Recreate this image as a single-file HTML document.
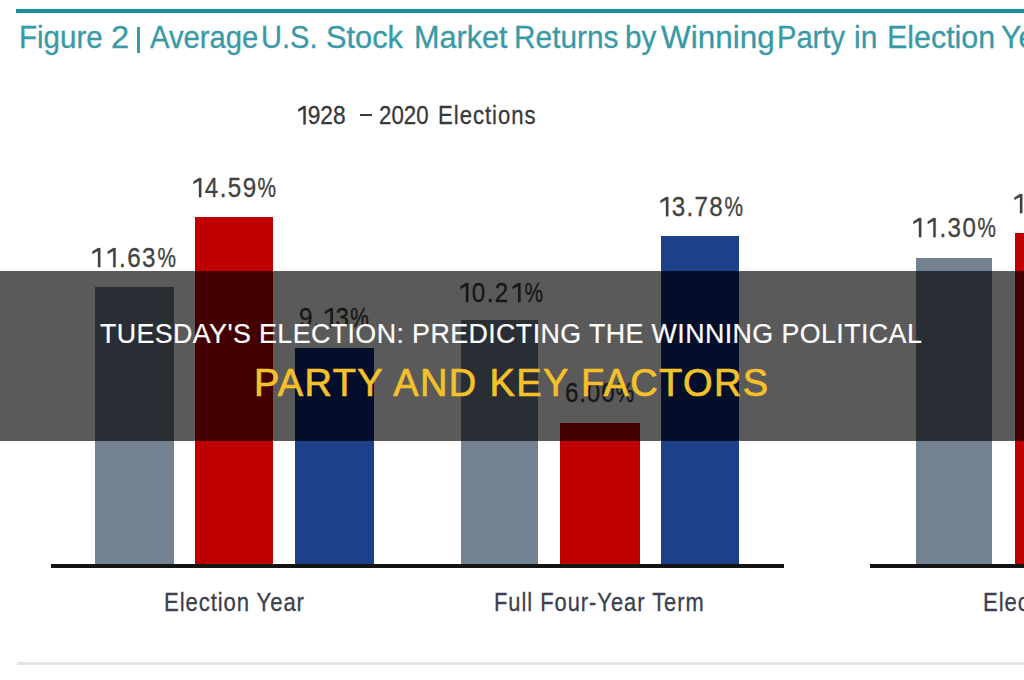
<!DOCTYPE html>
<html><head><meta charset="utf-8">
<style>
html,body{margin:0;padding:0;}
body{width:1024px;height:680px;position:relative;overflow:hidden;background:#fff;font-family:"Liberation Sans",sans-serif;}
.a{position:absolute;}
.t{position:absolute;line-height:1;white-space:pre;transform-origin:0 0;}
.one{width:.556em;height:.716em;vertical-align:baseline;margin-right:var(--ls);fill:currentColor;overflow:visible;}
.pc{display:inline-block;transform:scaleX(.86);transform-origin:0 0;}
</style></head><body>

<div class="a" style="left:16.0px;top:8.5px;width:1008.0px;height:4.0px;background:#1b8c96"></div>
<div class="a" style="left:137.2px;top:26.5px;width:3.0px;height:26.0px;background:#3899a7"></div>
<div class="t" style="left:18.90px;top:22px;font-size:30.44px;transform:scaleX(0.9699);-webkit-text-stroke:0.3px #3899a7;color:#3899a7;">Figure</div>
<div class="t" style="left:110.70px;top:22px;font-size:30.44px;transform:scaleX(1.0733);-webkit-text-stroke:0.3px #3899a7;color:#3899a7;">2</div>
<div class="t" style="left:150.00px;top:22px;font-size:30.44px;transform:scaleX(0.9589);-webkit-text-stroke:0.3px #3899a7;color:#3899a7;">Average</div>
<div class="t" style="left:261.00px;top:22px;font-size:30.44px;transform:scaleX(0.9545);-webkit-text-stroke:0.3px #3899a7;color:#3899a7;">U.S.</div>
<div class="t" style="left:326.20px;top:22px;font-size:30.44px;transform:scaleX(1.0108);-webkit-text-stroke:0.3px #3899a7;color:#3899a7;">Stock</div>
<div class="t" style="left:414.00px;top:22px;font-size:30.44px;transform:scaleX(1.0044);-webkit-text-stroke:0.3px #3899a7;color:#3899a7;">Market</div>
<div class="t" style="left:514.00px;top:22px;font-size:30.44px;transform:scaleX(0.9808);-webkit-text-stroke:0.3px #3899a7;color:#3899a7;">Returns</div>
<div class="t" style="left:624.70px;top:22px;font-size:30.44px;transform:scaleX(0.9733);-webkit-text-stroke:0.3px #3899a7;color:#3899a7;">by</div>
<div class="t" style="left:661.00px;top:22px;font-size:30.44px;transform:scaleX(1.0343);-webkit-text-stroke:0.3px #3899a7;color:#3899a7;">Winning</div>
<div class="t" style="left:777.00px;top:22px;font-size:30.44px;transform:scaleX(0.9565);-webkit-text-stroke:0.3px #3899a7;color:#3899a7;">Party</div>
<div class="t" style="left:853.80px;top:22px;font-size:30.44px;transform:scaleX(0.9850);-webkit-text-stroke:0.3px #3899a7;color:#3899a7;">in</div>
<div class="t" style="left:886.60px;top:22px;font-size:30.44px;transform:scaleX(0.9990);-webkit-text-stroke:0.3px #3899a7;color:#3899a7;">Election</div>
<div class="t" style="left:1001.40px;top:22px;font-size:30.44px;transform:scaleX(0.9990);-webkit-text-stroke:0.3px #3899a7;color:#3899a7;">Years</div>
<div class="a" style="left:360.0px;top:113.8px;width:11.5px;height:2.2px;background:#3a3a3a"></div>
<div class="t" style="left:295.00px;top:103px;font-size:25.69px;transform:scaleX(0.8868);-webkit-text-stroke:0.3px #38393b;color:#38393b;"><svg class="one" viewBox="0 0 556 716"><path d="M370 0H470V716H370V112L140 228V128Z" stroke="currentColor" stroke-width="8"/></svg>928</div>
<div class="t" style="left:379.00px;top:103px;font-size:25.69px;transform:scaleX(0.8673);-webkit-text-stroke:0.3px #38393b;color:#38393b;">2020</div>
<div class="t" style="left:438.00px;top:103px;font-size:25.69px;transform:scaleX(0.8600);--ls:1.163px;letter-spacing:var(--ls);-webkit-text-stroke:0.3px #38393b;color:#38393b;">Elections</div>
<div class="a" style="left:94.5px;top:287.0px;width:79.2px;height:277.3px;background:#738290"></div>
<div class="a" style="left:195.3px;top:217.0px;width:77.4px;height:347.3px;background:#c00000"></div>
<div class="a" style="left:294.6px;top:347.7px;width:79.1px;height:216.6px;background:#1c4189"></div>
<div class="a" style="left:461.3px;top:320.2px;width:76.7px;height:244.1px;background:#738290"></div>
<div class="a" style="left:560.3px;top:422.5px;width:79.7px;height:141.8px;background:#c00000"></div>
<div class="a" style="left:661.3px;top:236.3px;width:77.7px;height:328.0px;background:#1c4189"></div>
<div class="a" style="left:915.8px;top:257.7px;width:76.7px;height:306.6px;background:#738290"></div>
<div class="a" style="left:1014.5px;top:233.1px;width:85.5px;height:331.2px;background:#c00000"></div>
<div class="t" style="left:89.30px;top:245px;font-size:26.86px;transform:scaleX(0.9000);--ls:1.69px;letter-spacing:var(--ls);-webkit-text-stroke:0.3px #424242;color:#424242;"><svg class="one" viewBox="0 0 556 716"><path d="M370 0H470V716H370V112L140 228V128Z" stroke="currentColor" stroke-width="8"/></svg><svg class="one" viewBox="0 0 556 716"><path d="M370 0H470V716H370V112L140 228V128Z" stroke="currentColor" stroke-width="8"/></svg>.63<span class="pc">%</span></div>
<div class="t" style="left:190.30px;top:175px;font-size:26.86px;transform:scaleX(0.9000);--ls:1.556px;letter-spacing:var(--ls);-webkit-text-stroke:0.3px #424242;color:#424242;"><svg class="one" viewBox="0 0 556 716"><path d="M370 0H470V716H370V112L140 228V128Z" stroke="currentColor" stroke-width="8"/></svg>4.59<span class="pc">%</span></div>
<div class="t" style="left:298.80px;top:305px;font-size:26.86px;transform:scaleX(0.9000);--ls:1.111px;letter-spacing:var(--ls);-webkit-text-stroke:0.3px #424242;color:#424242;">9.<svg class="one" viewBox="0 0 556 716"><path d="M370 0H470V716H370V112L140 228V128Z" stroke="currentColor" stroke-width="8"/></svg>3<span class="pc">%</span></div>
<div class="t" style="left:456.80px;top:280px;font-size:26.86px;transform:scaleX(0.9000);--ls:1.555px;letter-spacing:var(--ls);-webkit-text-stroke:0.3px #424242;color:#424242;"><svg class="one" viewBox="0 0 556 716"><path d="M370 0H470V716H370V112L140 228V128Z" stroke="currentColor" stroke-width="8"/></svg>0.2<svg class="one" viewBox="0 0 556 716"><path d="M370 0H470V716H370V112L140 228V128Z" stroke="currentColor" stroke-width="8"/></svg><span class="pc">%</span></div>
<div class="t" style="left:565.40px;top:380px;font-size:26.86px;transform:scaleX(0.9000);--ls:0.945px;letter-spacing:var(--ls);-webkit-text-stroke:0.3px #424242;color:#424242;">6.00<span class="pc">%</span></div>
<div class="t" style="left:656.70px;top:194px;font-size:26.86px;transform:scaleX(0.9000);--ls:1.467px;letter-spacing:var(--ls);-webkit-text-stroke:0.3px #424242;color:#424242;"><svg class="one" viewBox="0 0 556 716"><path d="M370 0H470V716H370V112L140 228V128Z" stroke="currentColor" stroke-width="8"/></svg>3.78<span class="pc">%</span></div>
<div class="t" style="left:910.00px;top:215px;font-size:26.75px;transform:scaleX(0.9000);--ls:1.556px;letter-spacing:var(--ls);-webkit-text-stroke:0.3px #424242;color:#424242;"><svg class="one" viewBox="0 0 556 716"><path d="M370 0H470V716H370V112L140 228V128Z" stroke="currentColor" stroke-width="8"/></svg><svg class="one" viewBox="0 0 556 716"><path d="M370 0H470V716H370V112L140 228V128Z" stroke="currentColor" stroke-width="8"/></svg>.30<span class="pc">%</span></div>
<div class="t" style="left:1010.50px;top:191px;font-size:26.86px;transform:scaleX(0.9000);--ls:1.556px;letter-spacing:var(--ls);-webkit-text-stroke:0.3px #424242;color:#424242;"><svg class="one" viewBox="0 0 556 716"><path d="M370 0H470V716H370V112L140 228V128Z" stroke="currentColor" stroke-width="8"/></svg>4.00<span class="pc">%</span></div>
<div class="a" style="left:50.5px;top:564.3px;width:733.2px;height:4.1px;background:#141414"></div>
<div class="a" style="left:870.0px;top:564.3px;width:154.0px;height:4.1px;background:#141414"></div>
<div class="t" style="left:163.60px;top:590px;font-size:25.69px;transform:scaleX(0.8600);--ls:1.065px;letter-spacing:var(--ls);-webkit-text-stroke:0.3px #3c404c;color:#3c404c;">Election Year</div>
<div class="t" style="left:494.00px;top:590px;font-size:25.42px;transform:scaleX(0.8600);--ls:1.15px;letter-spacing:var(--ls);-webkit-text-stroke:0.3px #3c404c;color:#3c404c;">Full Four-Year Term</div>
<div class="t" style="left:982.70px;top:590px;font-size:25.69px;transform:scaleX(0.8600);--ls:1.065px;letter-spacing:var(--ls);-webkit-text-stroke:0.3px #3c404c;color:#3c404c;">Election Year</div>
<div class="a" style="left:17.0px;top:662.0px;width:1007.0px;height:2.5px;background:#e4e4e4"></div>
<div class="a" style="left:0.0px;top:271.2px;width:1024.0px;height:169.6px;background:rgba(0,0,0,0.647)"></div>
<div class="a" style="left:294.6px;top:347.7px;width:79.1px;height:93.1px;background:#030f2a"></div>
<div class="a" style="left:661.5px;top:271.2px;width:77.2px;height:169.6px;background:#030f2a"></div>
<div class="t" style="left:99.90px;top:321px;font-size:26.81px;--ls:0.416px;letter-spacing:var(--ls);-webkit-text-stroke:0.2px #ffffff;color:#ffffff;">TUESDAY'S ELECTION: PREDICTING THE WINNING POLITICAL</div>
<div class="t" style="left:253.90px;top:364px;font-size:38.0px;--ls:1.39px;letter-spacing:var(--ls);-webkit-text-stroke:0.7px #f4c12b;color:#f4c12b;">PARTY AND KEY FACTORS</div>
</body></html>
